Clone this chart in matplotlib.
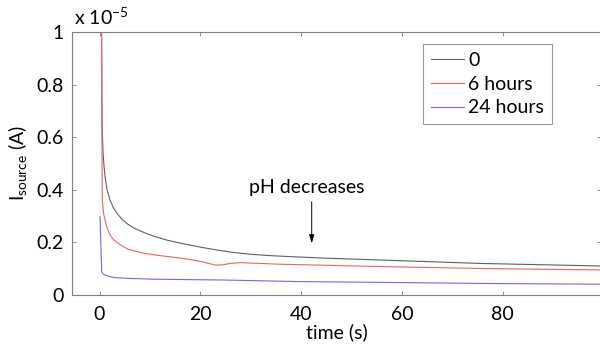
import matplotlib
matplotlib.use("Agg")
import matplotlib.pyplot as plt
from matplotlib.ticker import FixedLocator, FuncFormatter

plt.rcParams['font.family'] = ['Lato', 'DejaVu Sans']
plt.rcParams['mathtext.fontset'] = 'custom'
plt.rcParams['mathtext.rm'] = 'Lato'
plt.rcParams['mathtext.it'] = 'Lato'

# values in units of 1e-5 A
t_0h = [0.35, 0.5, 0.7, 0.9, 1.1, 1.5, 2.1, 2.8, 3.7, 4.6, 5.7, 7.0, 8.4, 9.7, 11.0, 13.5, 16.6, 20.0,
        23.3, 26.5, 29.9, 33.5, 37.8, 45.0, 55.7, 65.0, 75.5, 88.0, 100.0]
i_0h = [1.30, 0.66, 0.54, 0.49, 0.45, 0.40, 0.36, 0.33, 0.305, 0.285, 0.268, 0.253, 0.241, 0.231, 0.222,
        0.208, 0.195, 0.182, 0.171, 0.162, 0.155, 0.150, 0.146, 0.140, 0.133, 0.127, 0.120, 0.115, 0.110]

t_6h = [0.3, 0.55, 0.8, 1.1, 1.5, 2.1, 2.8, 3.7, 4.6, 5.7, 8.0, 11.0, 16.6, 20.0, 22.9, 24.2, 25.9, 27.9,
        35.8, 45.0, 55.7, 75.5, 100.0]
i_6h = [1.30, 0.36, 0.31, 0.285, 0.255, 0.228, 0.21, 0.197, 0.185, 0.174, 0.162, 0.152, 0.139, 0.128,
        0.114, 0.114, 0.120, 0.123, 0.117, 0.113, 0.108, 0.101, 0.095]

t_24h = [0.1, 0.43, 0.7, 1.1, 2.0, 3.1, 6.0, 11.0, 24.5, 39.7, 55.7, 75.5, 100.0]
i_24h = [0.298, 0.089, 0.080, 0.076, 0.070, 0.066, 0.063, 0.060, 0.057, 0.051, 0.048, 0.044, 0.041]

labels = ['0', '6 hours', '24 hours']
colors = ['#606060', '#f0606a', '#6a6af0']

x_ticks = [0, 20, 40, 60, 80, 100]
y_ticks = [0, 0.2, 0.4, 0.6, 0.8, 1.0]

fig = plt.figure(figsize=(6.0, 3.48), dpi=100)
ax = fig.add_axes([72/600, 1 - 295/348, 529/600, 263/348])

for tt, ii, lab, c in zip([t_0h, t_6h, t_24h], [i_0h, i_6h, i_24h], labels, colors):
    ax.plot(tt, ii, color=c, lw=0.8, label=lab)

ax.set_xlim(-5.46, 99.5)
ax.set_ylim(0, 1)
ax.xaxis.set_major_locator(FixedLocator(x_ticks))
ax.yaxis.set_major_locator(FixedLocator(y_ticks))
ax.yaxis.set_major_formatter(FuncFormatter(lambda v, p: ('%g' % v)))
ax.tick_params(direction='in', length=3, width=0.6, color='#808080',
               top=True, right=True, labelsize=14, pad=6)
ax.tick_params(axis='x', pad=8)
for s in ax.spines.values():
    s.set_color('#808080')
    s.set_linewidth(0.8)

ax.set_xlabel('time (s)', fontsize=14, labelpad=0)
ax.set_ylabel(r'I$_{\mathrm{source}}$ (A)', fontsize=14, labelpad=5)
fig.text(74/600, 1 - 25/348, r'x 10$^{-5}$', fontsize=14, ha='left', va='baseline')

ax.annotate('', xy=(42.1, 0.186), xytext=(42.1, 0.365),
            arrowprops=dict(arrowstyle='-|>,head_length=0.5,head_width=0.15', color='black', lw=0.7))
ax.text(41.1, 0.407, 'pH decreases', fontsize=14, ha='center', va='center')

leg = ax.legend(loc='upper right', bbox_to_anchor=(0.907, 0.954), fontsize=14,
                frameon=True, fancybox=False, handlelength=1.7, handletextpad=0.2,
                labelspacing=0.35, borderpad=0.4, borderaxespad=0)
leg.get_frame().set_edgecolor('#808080')
leg.get_frame().set_linewidth(0.8)

fig.savefig('out.png', dpi=100)
